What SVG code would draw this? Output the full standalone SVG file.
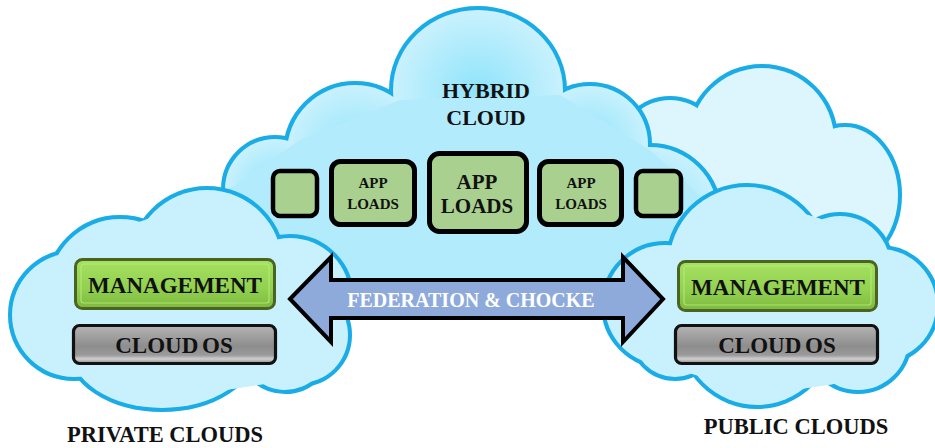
<svg xmlns="http://www.w3.org/2000/svg" xmlns:xlink="http://www.w3.org/1999/xlink" width="935" height="448" viewBox="0 0 935 448">
<style>
.lbl{font-family:"Liberation Serif","DejaVu Serif","Times New Roman",serif;font-weight:bold;fill:#111;text-anchor:middle}
.fed{font-family:"Liberation Serif","DejaVu Serif","Times New Roman",serif;font-weight:bold;fill:#fff;text-anchor:middle}
.app{fill:#a9d08e;stroke:#000}
.mgmt{fill:url(#gMgmt);stroke:#4b6424;stroke-width:3}
.mgmtIn{fill:none;stroke:#b6ec78;stroke-width:1.2;opacity:.8}
.os{fill:url(#gOs);stroke:#111;stroke-width:3.2}
</style>
<defs>
<radialGradient id="gLobe" cx="0.5" cy="0.5" r="0.5">
<stop offset="0" stop-color="#8fe4fb"/>
<stop offset="1" stop-color="#c9f1fd"/>
</radialGradient>
<linearGradient id="gMgmt" x1="0" y1="0" x2="0" y2="1">
<stop offset="0" stop-color="#a6e262"/>
<stop offset="0.6" stop-color="#92d050"/>
<stop offset="1" stop-color="#7cb93e"/>
</linearGradient>
<linearGradient id="gOs" x1="0" y1="0" x2="0" y2="1">
<stop offset="0" stop-color="#b4b4b4"/>
<stop offset="0.55" stop-color="#8d8d8d"/>
<stop offset="0.78" stop-color="#9a9a9a"/>
<stop offset="0.88" stop-color="#cfcfcf"/>
<stop offset="1" stop-color="#8a8a8a"/>
</linearGradient>
<g id="bgShape">
<circle cx="670" cy="150" r="50"/>
<circle cx="762" cy="140" r="72"/>
<ellipse cx="845" cy="195" rx="53" ry="68"/>
<polygon points="650,150 700,110 760,90 830,130 880,170 880,250 650,250" stroke="none"/>
</g>
<g id="hybShape">
<circle cx="275" cy="189" r="50" fill="url(#gLobe)"/>
<circle cx="355" cy="153" r="68" fill="url(#gLobe)"/>
<circle cx="590" cy="144" r="58" fill="url(#gLobe)"/>
<circle cx="650" cy="215" r="68" fill="url(#gLobe)"/>
<ellipse cx="478" cy="90" rx="85" ry="80" fill="url(#gLobe)"/>
<polygon points="228,190 300,140 400,100 560,95 650,150 705,200 705,305 228,305" fill="#b2ebfc" stroke="none"/>
</g>
<g id="privShape">
<circle cx="120" cy="290" r="71"/>
<circle cx="207" cy="265" r="75"/>
<circle cx="290" cy="298" r="60"/>
<circle cx="300" cy="335" r="48"/>
<circle cx="285" cy="345" r="45"/>
<ellipse cx="162" cy="348" rx="92" ry="60"/>
<circle cx="74" cy="315" r="62"/>
<polygon points="40,290 90,240 200,200 280,250 330,300 330,350 290,380 160,400 60,360" stroke="none"/>
</g>
<g id="pubShape">
<circle cx="665" cy="305" r="60"/>
<circle cx="747" cy="265" r="78"/>
<circle cx="840" cy="266" r="50"/>
<circle cx="880" cy="305" r="56"/>
<circle cx="858" cy="340" r="50"/>
<circle cx="757" cy="330" r="75"/>
<circle cx="675" cy="335" r="42"/>
<polygon points="660,260 700,230 760,200 840,225 880,260 900,300 900,350 860,380 760,395 680,370 625,320 630,280" stroke="none"/>
</g>
</defs>

<g id="cloud-background">
<use xlink:href="#bgShape" fill="#ddf5fd" stroke="#19ace6" stroke-width="8"/>
<use xlink:href="#bgShape" fill="#ddf5fd" stroke="none"/>
</g>

<g id="cloud-hybrid">
<use xlink:href="#hybShape" stroke="#19ace6" stroke-width="8"/>
<use xlink:href="#hybShape" stroke="none"/>
<text class="lbl" x="486" y="98" font-size="22">HYBRID</text>
<text class="lbl" x="486" y="125" font-size="22">CLOUD</text>
</g>

<g id="cloud-private">
<use xlink:href="#privShape" fill="#c9f0fd" stroke="#19ace6" stroke-width="8"/>
<use xlink:href="#privShape" fill="#c9f0fd" stroke="none"/>
</g>

<g id="cloud-public">
<use xlink:href="#pubShape" fill="#c9f0fd" stroke="#19ace6" stroke-width="8"/>
<use xlink:href="#pubShape" fill="#c9f0fd" stroke="none"/>
</g>

<g id="connectors">
<path d="M290,299 L331,257 L331,280 L623,280 L623,257 L663,299 L623,342 L623,318 L331,318 L331,342 Z" fill="#8eaadb" stroke="#000" stroke-width="4" stroke-linejoin="miter"/>
<text class="fed" x="471" y="307" font-size="20">FEDERATION &amp; CHOCKE</text>
</g>

<g id="app-small-left">
<rect class="app" x="273" y="171" width="44" height="45" rx="7" stroke-width="4.5"/>
</g>
<g id="app-loads-1">
<rect class="app" x="331.5" y="161.5" width="83" height="63" rx="9" stroke-width="5"/>
<text class="lbl" x="373" y="188" font-size="15">APP</text>
<text class="lbl" x="373" y="209" font-size="15">LOADS</text>
</g>
<g id="app-loads-center">
<rect class="app" x="429.5" y="153.5" width="97" height="78" rx="10" stroke-width="5"/>
<text class="lbl" x="477" y="189" font-size="21">APP</text>
<text class="lbl" x="477" y="213" font-size="21">LOADS</text>
</g>
<g id="app-loads-3">
<rect class="app" x="539.5" y="161.5" width="82" height="63" rx="9" stroke-width="5"/>
<text class="lbl" x="581" y="188" font-size="15">APP</text>
<text class="lbl" x="581" y="209" font-size="15">LOADS</text>
</g>
<g id="app-small-right">
<rect class="app" x="636" y="171" width="45" height="45" rx="7" stroke-width="4.5"/>
</g>

<g id="private-management">
<rect class="mgmt" x="75.5" y="259.5" width="199" height="49" rx="7"/>
<rect class="mgmtIn" x="81" y="264" width="188" height="39" rx="3"/>
<text class="lbl" x="175" y="293" font-size="23">MANAGEMENT</text>
</g>
<g id="private-cloud-os">
<rect class="os" x="73.5" y="325.5" width="202" height="38" rx="6"/>
<text class="lbl" x="174" y="353" font-size="23" word-spacing="-2">CLOUD OS</text>
</g>
<g id="public-management">
<rect class="mgmt" x="678.5" y="261.5" width="198" height="49" rx="7"/>
<rect class="mgmtIn" x="684" y="266" width="187" height="39" rx="3"/>
<text class="lbl" x="778" y="295" font-size="23">MANAGEMENT</text>
</g>
<g id="public-cloud-os">
<rect class="os" x="675.5" y="325.5" width="202" height="38" rx="6"/>
<text class="lbl" x="777" y="353" font-size="23" word-spacing="-2">CLOUD OS</text>
</g>

<g id="label-private">
<text class="lbl" x="165" y="442" font-size="22.5">PRIVATE CLOUDS</text>
</g>
<g id="label-public">
<text class="lbl" x="796" y="434" font-size="22.5">PUBLIC CLOUDS</text>
</g>
</svg>
